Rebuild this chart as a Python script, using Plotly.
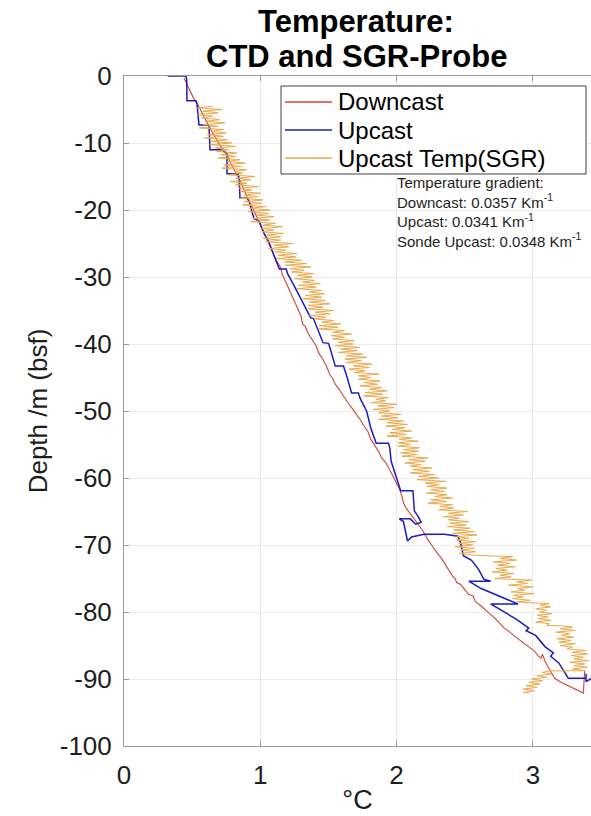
import plotly.graph_objects as go

# ---------------- data ----------------
down_temp = [0.44, 0.46, 0.49, 0.51, 0.54, 0.57, 0.59, 0.62, 0.65, 0.67, 0.70, 0.73, 0.76, 0.78, 0.81, 0.84,
             0.86, 0.88, 0.91, 0.94, 0.96, 0.99, 1.02, 1.05, 1.07, 1.10, 1.12, 1.15, 1.16, 1.18, 1.21, 1.23,
             1.25, 1.27, 1.30, 1.31, 1.33, 1.35, 1.38, 1.41, 1.43, 1.46, 1.49, 1.51, 1.53, 1.55, 1.58, 1.61,
             1.64, 1.67, 1.70, 1.73, 1.76, 1.79, 1.81, 1.84, 1.87, 1.89, 1.92, 1.95, 1.97, 2.00, 2.02, 2.04,
             2.05, 2.07, 2.10, 2.13, 2.16, 2.19, 2.22, 2.25, 2.28, 2.31, 2.33, 2.36, 2.39, 2.41, 2.43, 2.44,
             2.47, 2.50, 2.53, 2.56, 2.58, 2.62, 2.65, 2.68, 2.72, 2.75, 2.79, 2.83, 2.87, 2.91, 2.95, 2.98,
             3.01, 3.04, 3.06, 3.07, 3.09, 3.12, 3.14, 3.16, 3.20, 3.24, 3.29, 3.33, 3.37, 3.38]
down_depth = [-0.3, -1.2, -2.4, -3.3, -4.2, -5.3, -6.2, -7.4, -8.5, -9.3, -10.2, -11.0, -11.8, -12.9, -13.9, -15.1,
              -16.0, -17.0, -18.4, -19.5, -20.4, -21.6, -22.9, -24.2, -25.3, -26.6, -27.6, -28.6, -29.6, -30.4, -31.8, -32.8,
              -33.6, -34.7, -35.9, -37.0, -37.4, -38.4, -39.3, -40.3, -41.4, -42.3, -43.5, -44.6, -45.1, -46.0, -46.8, -47.8,
              -48.7, -49.5, -50.3, -51.2, -52.2, -53.1, -54.2, -55.2, -56.1, -57.0, -57.7, -58.8, -59.6, -60.6, -61.6, -62.8,
              -63.7, -64.5, -65.3, -66.2, -66.9, -67.8, -68.9, -69.9, -70.7, -71.5, -72.0, -73.0, -73.9, -74.6, -75.0, -75.6,
              -75.9, -76.6, -77.4, -77.6, -78.5, -79.1, -79.7, -80.2, -80.9, -81.6, -82.4, -83.0, -83.7, -84.3, -84.9, -85.4,
              -85.8, -86.6, -86.9, -86.3, -87.4, -88.5, -89.3, -89.9, -90.4, -90.8, -91.4, -91.7, -92.1, -88.8]

up_temp = [0.32, 0.455, 0.46, 0.462, 0.528, 0.536, 0.55, 0.616, 0.624, 0.631, 0.712, 0.756, 0.756, 0.836, 0.844,
           0.851, 0.902, 0.917, 0.954, 0.99, 1.03, 1.06, 1.10, 1.14, 1.19, 1.20, 1.24, 1.28, 1.33, 1.37, 1.39,
           1.42, 1.46, 1.50, 1.51, 1.55, 1.61, 1.63, 1.67, 1.72, 1.73, 1.76, 1.78, 1.81, 1.85, 1.94, 1.95, 1.96,
           2.00, 2.03, 2.12, 2.13, 2.16, 2.18, 2.14, 2.10, 2.02, 2.05, 2.08, 2.11, 2.20, 2.35, 2.45, 2.47, 2.49,
           2.55, 2.60, 2.64, 2.69, 2.53, 2.62, 2.75, 2.89, 2.69, 2.78, 2.88, 2.97, 2.95, 3.02, 3.09, 3.15, 3.13,
           3.19, 3.26, 3.39, 3.39, 3.39, 3.43]
up_depth = [0.0, 0.0, -0.5, -3.7, -3.7, -4.2, -7.3, -7.3, -7.5, -11.0, -11.0, -11.6, -14.6, -14.6, -15.2,
            -18.2, -18.2, -18.7, -21.3, -21.6, -23.6, -24.6, -26.8, -28.8, -28.8, -29.5, -31.0, -32.5, -34.5, -36.1, -36.2,
            -37.8, -39.8, -39.9, -40.5, -43.3, -43.3, -44.5, -47.3, -47.3, -48.0, -49.2, -50.0, -52.5, -54.8, -54.8, -55.5,
            -57.5, -60.0, -61.9, -61.9, -64.9, -65.8, -66.6, -66.9, -66.1, -66.1, -66.5, -69.4, -68.8, -68.4, -68.4, -68.7,
            -69.7, -71.6, -72.3, -73.6, -75.1, -75.4, -75.4, -76.5, -77.6, -78.8, -78.8, -79.9, -81.1, -82.4, -82.8, -83.5,
            -85.2, -86.1, -86.6, -87.6, -89.9, -89.9, -89.2, -90.4, -89.9]

sgr_temp = [
    0.65, 0.54, 0.72, 0.58, 0.69, 0.54, 0.65, 0.57,
    0.70, 0.61, 0.74, 0.58, 0.69, 0.55, 0.73, 0.64,
    0.75, 0.61, 0.73, 0.59, 0.76, 0.64, 0.79, 0.63,
    0.82, 0.67, 0.77, 0.68, 0.83, 0.71, 0.82, 0.69,
    0.85, 0.76, 0.89, 0.73, 0.86, 0.72, 0.90, 0.81,
    0.87, 0.76, 0.96, 0.82, 0.93, 0.78, 0.90, 0.82,
    0.99, 0.84, 0.94, 0.85, 1.00, 0.88, 0.98, 0.85,
    1.02, 0.88, 1.01, 0.87, 1.04, 0.92, 1.07, 0.91,
    1.06, 0.97, 1.10, 0.94, 1.07, 0.93, 1.11, 1.02,
    1.16, 1.01, 1.10, 1.01, 1.17, 1.05, 1.15, 1.02,
    1.15, 1.04, 1.24, 1.10, 1.21, 1.06, 1.19, 1.11,
    1.27, 1.13, 1.26, 1.12, 1.30, 1.18, 1.34, 1.18,
    1.37, 1.22, 1.32, 1.23, 1.39, 1.27, 1.38, 1.25,
    1.40, 1.31, 1.44, 1.28, 1.41, 1.27, 1.45, 1.36,
    1.47, 1.33, 1.45, 1.31, 1.48, 1.36, 1.51, 1.35,
    1.46, 1.35, 1.54, 1.40, 1.51, 1.36, 1.48, 1.40,
    1.54, 1.45, 1.59, 1.43, 1.57, 1.43, 1.62, 1.53,
    1.67, 1.52, 1.62, 1.53, 1.69, 1.57, 1.68, 1.55,
    1.73, 1.59, 1.71, 1.57, 1.75, 1.63, 1.78, 1.62,
    1.74, 1.63, 1.82, 1.68, 1.80, 1.65, 1.77, 1.69,
    1.87, 1.72, 1.81, 1.72, 1.88, 1.76, 1.86, 1.73,
    1.89, 1.80, 1.93, 1.77, 1.90, 1.76, 1.94, 1.85,
    1.92, 1.81, 2.00, 1.86, 1.98, 1.83, 1.95, 1.87,
    2.03, 1.89, 2.01, 1.87, 2.05, 1.93, 2.08, 1.92,
    2.06, 1.97, 2.11, 1.95, 2.07, 1.93, 2.11, 2.02,
    2.16, 2.01, 2.10, 2.01, 2.17, 2.05, 2.16, 2.03,
    2.15, 2.04, 2.23, 2.09, 2.21, 2.06, 2.18, 2.10,
    2.26, 2.12, 2.24, 2.10, 2.28, 2.16, 2.31, 2.15,
    2.36, 2.21, 2.31, 2.22, 2.37, 2.25, 2.35, 2.22,
    2.37, 2.28, 2.41, 2.25, 2.37, 2.23, 2.41, 2.32,
    2.42, 2.31, 2.52, 2.38, 2.49, 2.34, 2.46, 2.38,
    2.53, 2.39, 2.51, 2.37, 2.54, 2.42, 2.57, 2.41,
    2.59, 2.44, 2.53, 2.44, 2.58, 2.46, 2.56, 2.43,
    2.57, 2.47, 2.58, 2.46, 2.55,
    2.73, 2.85, 2.76, 2.88, 2.71, 2.83, 2.74, 2.87, 2.73, 2.81, 2.70, 2.86, 2.76, 2.84, 2.72,
    2.99, 2.88, 2.96, 2.82, 3.00, 2.89, 2.94, 2.84, 3.01, 2.86, 2.93, 2.85, 2.98, 2.88,
    3.03, 3.12, 3.05, 3.13, 3.02, 3.10, 3.05, 3.14, 3.03, 3.11, 3.04, 3.13, 3.02, 3.12, 3.10,
    3.20, 3.29, 3.20, 3.31, 3.17, 3.27, 3.21, 3.30, 3.18, 3.28, 3.19, 3.31, 3.20, 3.29, 3.25,
    3.39, 3.29, 3.40, 3.28, 3.37, 3.30, 3.41, 3.27, 3.38, 3.30, 3.40, 3.29, 3.38,
    3.12, 3.07, 3.14, 3.03, 3.10, 2.99, 3.07, 2.97, 3.05, 2.95, 3.03, 2.93, 3.01, 2.93, 2.97]
sgr_depth = [
    -4.5, -4.75, -5.0, -5.25, -5.5, -5.75, -6.0, -6.25,
    -6.5, -6.75, -7.0, -7.25, -7.5, -7.75, -8.0, -8.25,
    -8.5, -8.75, -9.0, -9.25, -9.5, -9.75, -10.0, -10.25,
    -10.5, -10.75, -11.0, -11.25, -11.5, -11.75, -12.0, -12.25,
    -12.5, -12.75, -13.0, -13.25, -13.5, -13.75, -14.0, -14.25,
    -14.5, -14.75, -15.0, -15.25, -15.5, -15.75, -16.0, -16.25,
    -16.5, -16.75, -17.0, -17.25, -17.5, -17.75, -18.0, -18.25,
    -18.5, -18.75, -19.0, -19.25, -19.5, -19.75, -20.0, -20.25,
    -20.5, -20.75, -21.0, -21.25, -21.5, -21.75, -22.0, -22.25,
    -22.5, -22.75, -23.0, -23.25, -23.5, -23.75, -24.0, -24.25,
    -24.5, -24.75, -25.0, -25.25, -25.5, -25.75, -26.0, -26.25,
    -26.5, -26.75, -27.0, -27.25, -27.5, -27.75, -28.0, -28.25,
    -28.5, -28.75, -29.0, -29.25, -29.5, -29.75, -30.0, -30.25,
    -30.5, -30.75, -31.0, -31.25, -31.5, -31.75, -32.0, -32.25,
    -32.5, -32.75, -33.0, -33.25, -33.5, -33.75, -34.0, -34.25,
    -34.5, -34.75, -35.0, -35.25, -35.5, -35.75, -36.0, -36.25,
    -36.5, -36.75, -37.0, -37.25, -37.5, -37.75, -38.0, -38.25,
    -38.5, -38.75, -39.0, -39.25, -39.5, -39.75, -40.0, -40.25,
    -40.5, -40.75, -41.0, -41.25, -41.5, -41.75, -42.0, -42.25,
    -42.5, -42.75, -43.0, -43.25, -43.5, -43.75, -44.0, -44.25,
    -44.5, -44.75, -45.0, -45.25, -45.5, -45.75, -46.0, -46.25,
    -46.5, -46.75, -47.0, -47.25, -47.5, -47.75, -48.0, -48.25,
    -48.5, -48.75, -49.0, -49.25, -49.5, -49.75, -50.0, -50.25,
    -50.5, -50.75, -51.0, -51.25, -51.5, -51.75, -52.0, -52.25,
    -52.5, -52.75, -53.0, -53.25, -53.5, -53.75, -54.0, -54.25,
    -54.5, -54.75, -55.0, -55.25, -55.5, -55.75, -56.0, -56.25,
    -56.5, -56.75, -57.0, -57.25, -57.5, -57.75, -58.0, -58.25,
    -58.5, -58.75, -59.0, -59.25, -59.5, -59.75, -60.0, -60.25,
    -60.5, -60.75, -61.0, -61.25, -61.5, -61.75, -62.0, -62.25,
    -62.5, -62.75, -63.0, -63.25, -63.5, -63.75, -64.0, -64.25,
    -64.5, -64.75, -65.0, -65.25, -65.5, -65.75, -66.0, -66.25,
    -66.5, -66.75, -67.0, -67.25, -67.5, -67.75, -68.0, -68.25,
    -68.5, -68.75, -69.0, -69.25, -69.5, -69.75, -70.0, -70.25,
    -70.5, -70.75, -71.0, -71.25, -71.5,
    -71.6, -71.75, -72.0, -72.25, -72.5, -72.75, -73.0, -73.25, -73.5, -73.75, -74.0, -74.25, -74.5, -74.75, -75.0,
    -75.25, -75.5, -75.75, -76.0, -76.25, -76.5, -76.75, -77.0, -77.25, -77.5, -77.75, -78.0, -78.25, -78.5,
    -78.65, -78.75, -79.0, -79.25, -79.5, -79.75, -80.0, -80.25, -80.5, -80.75, -81.0, -81.25, -81.5, -81.75, -82.0,
    -82.05, -82.25, -82.5, -82.75, -83.0, -83.25, -83.5, -83.75, -84.0, -84.25, -84.5, -84.75, -85.0, -85.25, -85.5,
    -85.75, -86.0, -86.25, -86.5, -86.75, -87.0, -87.25, -87.5, -87.75, -88.0, -88.25, -88.5, -88.75,
    -88.8, -89.0, -89.25, -89.5, -89.75, -90.0, -90.25, -90.5, -90.75, -91.0, -91.25, -91.5, -91.75, -92.0, -92.1]

series_names = ["Downcast", "Upcast", "Upcast Temp(SGR)"]
series_colors = ["#d2443c", "#1c1cc0", "#eba84a"]

x_ticks = [0, 1, 2, 3]
x_ticktext = ["0", "1", "2", "3"]
y_ticks = [0, -10, -20, -30, -40, -50, -60, -70, -80, -90, -100]
y_ticktext = ["0", "-10", "-20", "-30", "-40", "-50", "-60", "-70", "-80", "-90", "-100"]

title_lines = ["Temperature:", "CTD and SGR-Probe"]
x_title = "°C"
y_title = "Depth /m (bsf)"
gradient_text = ("Temperature gradient:<br>"
                 "Downcast: 0.0357 Km<sup>-1</sup><br>"
                 "Upcast: 0.0341 Km<sup>-1</sup><br>"
                 "Sonde Upcast: 0.0348 Km<sup>-1</sup>")

assert len(down_temp) == len(down_depth)
assert len(up_temp) == len(up_depth)
assert len(sgr_temp) == len(sgr_depth), (len(sgr_temp), len(sgr_depth))

FONT = "Liberation Sans, Arial, sans-serif"
TXT = "#1e1e1e"

fig = go.Figure()
fig.add_trace(go.Scatter(x=down_temp, y=down_depth, mode="lines", name=series_names[0],
                         line=dict(color=series_colors[0], width=1.1), showlegend=False))
fig.add_trace(go.Scatter(x=up_temp, y=up_depth, mode="lines", name=series_names[1],
                         line=dict(color=series_colors[1], width=1.5), showlegend=False))
fig.add_trace(go.Scatter(x=sgr_temp, y=sgr_depth, mode="lines", name=series_names[2],
                         line=dict(color=series_colors[2], width=1.0), showlegend=False))

W, H = 591, 816
L, R, T, B = 124, 0, 76, 70
pw, ph = W - L - R, H - T - B


def px(xp):
    return (xp - L) / pw


def py(yp):
    return (H - B - yp) / ph


axis_common = dict(showgrid=True, gridcolor="#ebebeb", gridwidth=1, zeroline=False,
                   showline=True, linecolor="#9a9a9a", linewidth=1, automargin=False,
                   ticks="inside", ticklen=5, tickcolor="#9a9a9a",
                   tickfont=dict(family=FONT, size=26, color=TXT))

fig.update_layout(
    width=W, height=H,
    margin=dict(l=L, r=R, t=T, b=B),
    paper_bgcolor="white", plot_bgcolor="white",
    xaxis=dict(range=[0, (W - L) / 136.3], tickvals=x_ticks, ticktext=x_ticktext,
               mirror="ticks", ticklabelstandoff=6,
               title=dict(text=x_title, standoff=0, font=dict(family=FONT, size=27, color=TXT)),
               **axis_common),
    yaxis=dict(range=[-100, 0], tickvals=y_ticks, ticktext=y_ticktext, ticklabelstandoff=6,
               title=dict(text=y_title, standoff=4, font=dict(family=FONT, size=26, color=TXT)),
               **axis_common),
    showlegend=False,
)

annotations = [
    dict(text="<b>%s</b>" % title_lines[0], x=px(356), y=py(22), xref="paper", yref="paper",
         xanchor="center", yanchor="middle", showarrow=False,
         font=dict(family=FONT, size=31, color="black")),
    dict(text="<b>%s</b>" % title_lines[1], x=px(356), y=py(57), xref="paper", yref="paper",
         xanchor="center", yanchor="middle", showarrow=False,
         font=dict(family=FONT, size=31, color="black")),
    dict(text=gradient_text, x=px(395), y=py(172), xref="paper", yref="paper",
         xanchor="left", yanchor="top", align="left", showarrow=False,
         font=dict(family=FONT, size=15, color=TXT)),
]

# legend box drawn manually to match the reference proportions
shapes = [dict(type="rect", xref="paper", yref="paper", x0=px(281), x1=px(586), y0=py(174), y1=py(86),
               line=dict(color="#404040", width=1), fillcolor="white", layer="above")]
row_y = [102, 130, 158]
for name, color, ry in zip(series_names, series_colors, row_y):
    shapes.append(dict(type="line", xref="paper", yref="paper", x0=px(285), x1=px(332), y0=py(ry), y1=py(ry),
                       line=dict(color=color, width=1.5), layer="above"))
    annotations.append(dict(text=name, x=px(336), y=py(ry), xref="paper", yref="paper",
                            xanchor="left", yanchor="middle", showarrow=False,
                            font=dict(family=FONT, size=24, color="black")))

fig.update_layout(shapes=shapes, annotations=annotations)
fig.write_html("out.html")
